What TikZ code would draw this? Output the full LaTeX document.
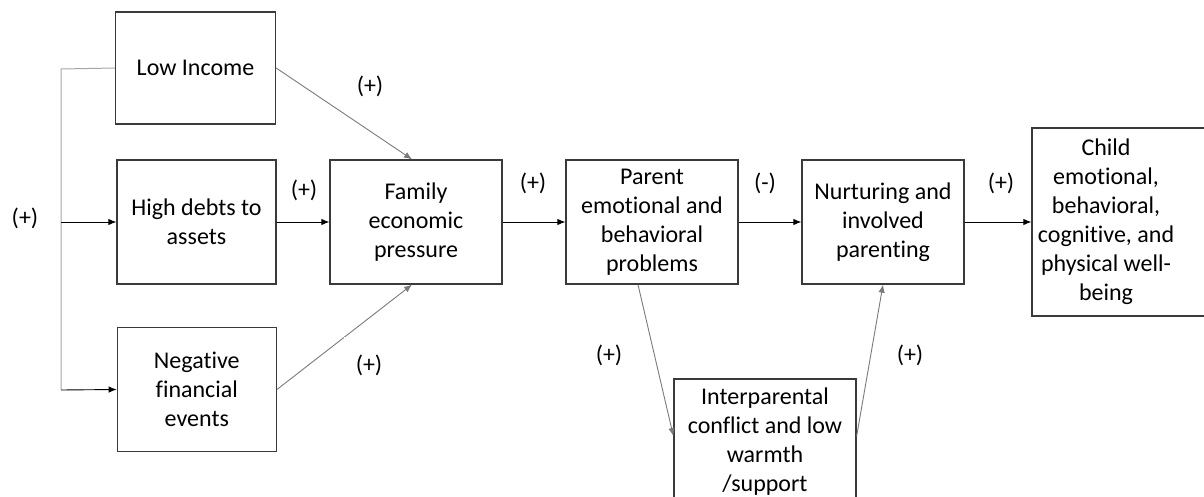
\documentclass[tikz,border=0pt]{standalone}
\usepackage{fontspec}
\setmainfont{Carlito}[Ligatures=NoCommon]
\usetikzlibrary{arrows.meta}
\definecolor{boxgray}{HTML}{3A3A3A}
\definecolor{linegray}{HTML}{7A7A7A}
\definecolor{lightline}{HTML}{A6A6A6}
\begin{document}
\begin{tikzpicture}[x=1pt,y=-1pt,
  font=\fontsize{24}{29}\selectfont,
  box/.style={draw=boxgray, line width=1.3pt, align=center, inner sep=0pt},
  arr/.style={draw=black, line width=0.9pt, -{Latex[length=8pt,width=6.5pt]}},
  darr/.style={draw=linegray, line width=0.9pt, -{Latex[length=8pt,width=6.5pt]}},
  sign/.style={fill=white, minimum width=50pt, minimum height=56pt, inner sep=0pt}]
\useasboundingbox (0,0) rectangle (1204,497);
\clip (0,0) rectangle (1204,497);

% boxes
\node[box, minimum width=160pt, minimum height=112pt] (lowinc) at (195.5,68) {Low Income};
\node[box, minimum width=159pt, minimum height=124pt] (debts) at (196.5,222) {High debts to\\assets};
\node[box, minimum width=159pt, minimum height=124pt] (neg) at (196.8,389.5) {Negative\\financial\\events};
\node[box, minimum width=172pt, minimum height=124pt] (family) at (416,222) {Family\\economic\\pressure};
\node[box, minimum width=172pt, minimum height=124pt] (parent) at (652,222) {Parent\\emotional and\\behavioral\\problems};
\node[box, minimum width=162pt, minimum height=124pt] (nurture) at (883,222) {Nurturing and\\involved\\parenting};
\node[box, minimum width=182pt, minimum height=126pt] (inter) at (765,442) {Interparental\\conflict and low\\warmth\\/support};
% outcome box runs past the right edge; its text sits left of the box centre
\node[draw=boxgray, line width=1.3pt, inner sep=0pt, minimum width=180pt, minimum height=188pt] (child) at (1122,222)
  {\begin{tabular}{@{}c@{}}Child\\emotional,\\behavioral,\\cognitive, and\\physical well-\\being\end{tabular}\hspace*{32pt}};

% left bracket
\coordinate (bt) at (61,69);
\coordinate (bm) at (61,222);
\coordinate (bb) at (61,390);
\draw[draw=lightline, line width=1pt] (lowinc.west) -- (bt) -- (bb);
\draw[arr] (bm) -- (debts.west);
\draw[arr] (bb) -- (neg.west);

% connectors
\draw[darr] (lowinc.east) -- ([xshift=-4pt]family.north);
\draw[arr] (debts.east) -- (family.west);
\draw[darr] (neg.east) -- ([xshift=-4pt]family.south);
\draw[arr] (family.east) -- (parent.west);
\draw[arr] (parent.east) -- (nurture.west);
\draw[arr] (nurture.east) -- (child.west);
\draw[darr] ([xshift=-14pt]parent.south) -- ([yshift=6pt]inter.west);
\draw[darr] ([yshift=6pt]inter.east) -- (nurture.south);

% signs
\node[sign] (s0) at (25,218) {(+)};
\node[sign] (s1) at (370,86) {(+)};
\node[sign] (s2) at (304,190) {(+)};
\node[sign] (s3) at (369,365) {(+)};
\node[sign] (s4) at (533,183) {(+)};
\node[sign] (s5) at (765,183) {(-)};
\node[sign] (s6) at (1001,183) {(+)};
\node[sign] (s7) at (609,355) {(+)};
\node[sign] (s8) at (910,355) {(+)};
\end{tikzpicture}
\end{document}
